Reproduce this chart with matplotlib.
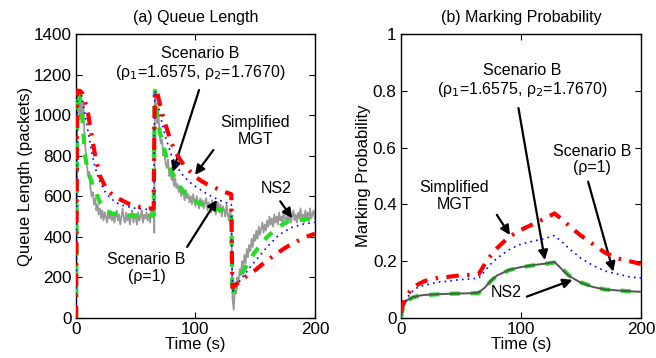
import matplotlib
matplotlib.use("Agg")
import matplotlib.pyplot as plt
from matplotlib.ticker import FuncFormatter

plt.rcParams['font.family'] = ['Liberation Sans', 'DejaVu Sans']

# ---------------- Data: (a) Queue length ----------------
t_mgt_q = [0, 0.5, 1, 3, 5, 7, 10, 13, 16, 20, 25, 30, 35, 40, 45, 50, 55, 60, 65, 65.5, 66,
           68, 70, 72, 75, 80, 85, 90, 95, 100, 105, 110, 115, 120, 125, 130, 130.5, 131, 133,
           136, 140, 145, 150, 155, 160, 165, 170, 175, 180, 185, 190, 195, 200]
q_mgt = [0, 600, 1120, 1120, 1110, 1080, 1010, 900, 800, 700, 640, 610, 590, 575, 560, 550, 545,
         540, 540, 900, 1120, 1110, 1060, 1010, 950, 860, 800, 755, 725, 695, 675, 658, 645, 632,
         620, 610, 300, 150, 160, 175, 195, 215, 235, 260, 283, 305, 325, 345, 362, 378, 392, 405, 415]

t_b1_q = [0, 0.5, 1, 3, 5, 7, 10, 13, 16, 20, 25, 30, 35, 40, 50, 60, 65, 65.5, 66, 68, 70, 75,
          80, 85, 90, 95, 100, 110, 120, 130, 130.5, 131, 135, 140, 145, 150, 160, 170, 180, 190, 200]
q_b1 = [0, 600, 1120, 1115, 1090, 1020, 920, 820, 740, 670, 615, 585, 565, 553, 540, 535, 533,
        900, 1120, 1080, 1010, 890, 800, 740, 700, 670, 648, 610, 580, 560, 300, 130, 165, 205,
        245, 280, 350, 410, 445, 462, 472]

t_b2_q = [0, 0.5, 1, 3, 5, 7.5, 10, 14.5, 20, 25, 30, 40, 50, 60, 65, 65.5, 66, 68, 70, 77, 85,
          95, 105, 115, 130, 130.5, 131, 135, 140, 149, 160, 170, 177, 190, 200]
q_b2 = [0, 600, 1120, 1100, 1000, 800, 720, 647, 570, 530, 515, 505, 505, 505, 505, 900, 1120,
        1000, 920, 762, 660, 590, 560, 540, 520, 300, 110, 180, 230, 319, 400, 450, 475, 485, 490]

t_ns2_q = ([0, 1, 2, 3, 4, 5, 6, 7, 8, 9, 10, 11, 12, 13, 14, 15, 16, 17, 18, 19, 20,
            21, 22, 23, 24, 25, 26, 27, 28, 29, 30, 31, 32, 33, 34, 35, 36, 37, 38, 39, 40,
            41, 42, 43, 44, 45, 46, 47, 48, 49, 50, 51, 52, 53, 54, 55, 56, 57, 58, 59, 60,
            61, 62, 63, 64, 65, 65.5, 66,
            67, 68, 69, 70, 71, 72, 73, 74, 75, 76, 77, 78, 79, 80, 81, 82, 83, 84, 85, 86,
            87, 88, 89, 90, 91, 92, 93, 94, 95, 96, 97, 98, 99, 100, 101, 102, 103, 104, 105,
            106, 107, 108, 109, 110, 111, 112, 113, 114, 115, 116, 117, 118, 119, 120, 121,
            122, 123, 124, 125, 126, 127, 128, 129, 130, 130.5,
            131, 132, 133, 134, 135, 136, 137, 138, 139, 140, 141, 142, 143, 144, 145, 146,
            147, 148, 149, 150, 151, 152, 153, 154, 155, 156, 157, 158, 159, 160, 161, 162,
            163, 164, 165, 166, 167, 168, 169, 170, 171, 172, 173, 174, 175, 176, 177, 178,
            179, 180, 181, 182, 183, 184, 185, 186, 187, 188, 189, 190, 191, 192, 193, 194,
            195, 196, 197, 198, 199, 200])
q_ns2 = ([0, 1050, 1100, 980, 1080, 1000, 1060, 900, 820, 760, 700, 720, 640, 600, 620, 560,
          590, 530, 560, 510, 540, 490, 530, 480, 520, 500, 470, 530, 490, 510, 480, 520, 470,
          500, 530, 480, 510, 460, 500, 540, 490, 470, 520, 480, 510, 460, 500, 530, 470, 510,
          490, 460, 520, 480, 500, 530, 470, 510, 490, 520, 480, 510, 470, 530, 500, 520, 420, 1100,
          1050, 960, 1000, 900, 860, 880, 800, 820, 760, 740, 780, 700, 720, 680, 700, 650, 690,
          640, 660, 620, 650, 600, 640, 610, 580, 630, 590, 610, 570, 600, 560, 610, 580, 550,
          600, 570, 540, 590, 560, 580, 540, 570, 590, 530, 570, 550, 520, 580, 540, 560, 510,
          550, 570, 520, 560, 500, 550, 530, 500, 560, 510, 480, 530, 490, 300,
          100, 40, 150, 120, 200, 170, 240, 210, 280, 250, 310, 270, 340, 300, 360, 330, 390,
          350, 410, 380, 430, 390, 450, 410, 440, 470, 420, 460, 430, 480, 450, 500, 460, 490,
          450, 510, 470, 500, 460, 520, 480, 500, 470, 530, 490, 460, 510, 480, 520, 470, 500,
          530, 480, 510, 470, 520, 490, 540, 480, 510, 470, 530, 490, 520, 480, 540, 490, 510,
          530, 490])

# ---------------- Data: (b) Marking probability ----------------
t_p = [0, 2, 5, 10, 15, 20, 30, 40, 50, 60, 65, 70, 75, 80, 90, 100, 110, 120, 128, 135, 140,
       150, 160, 170, 180, 190, 200]
p_mgt = [0.02, 0.05, 0.08, 0.105, 0.12, 0.13, 0.14, 0.145, 0.15, 0.152, 0.155, 0.19, 0.22,
         0.245, 0.285, 0.31, 0.33, 0.35, 0.368, 0.345, 0.325, 0.29, 0.26, 0.23, 0.21, 0.2, 0.19]
p_b1 = [0.02, 0.045, 0.07, 0.095, 0.11, 0.115, 0.125, 0.13, 0.135, 0.138, 0.14, 0.165, 0.19,
        0.21, 0.24, 0.26, 0.27, 0.28, 0.29, 0.265, 0.245, 0.21, 0.185, 0.165, 0.155, 0.145, 0.14]
p_b2 = [0.0, 0.04, 0.06, 0.072, 0.078, 0.08, 0.083, 0.085, 0.086, 0.087, 0.088, 0.105, 0.13,
        0.148, 0.168, 0.178, 0.185, 0.19, 0.195, 0.17, 0.15, 0.125, 0.11, 0.1, 0.097, 0.094, 0.092]
p_ns2 = [0.0, 0.042, 0.062, 0.073, 0.078, 0.081, 0.083, 0.085, 0.086, 0.087, 0.09, 0.107,
         0.131, 0.149, 0.169, 0.179, 0.186, 0.191, 0.197, 0.168, 0.148, 0.124, 0.109, 0.1, 0.097,
         0.094, 0.092]

RED = '#ff0000'
BLUE = '#0000ff'
GREEN = '#22dd22'

fig = plt.figure(figsize=(6.56, 3.58), dpi=100)
ax1 = fig.add_axes([0.116, 0.112, 0.364, 0.793])
ax2 = fig.add_axes([0.611, 0.112, 0.366, 0.793])

TICK_FS = 12.3
LAB_FS = 12
TITLE_FS = 11.5
TXT_FS = 11.5

# (a)
ax1.plot(t_ns2_q, q_ns2, color='#999999', lw=1.3, zorder=2)
ax1.plot(t_b2_q, q_b2, color=GREEN, lw=3, ls=(0, (2.5, 2.5)), zorder=3)
ax1.plot(t_b1_q, q_b1, color=BLUE, lw=1.2, ls=(0, (1, 2.5)), zorder=4)
ax1.plot(t_mgt_q, q_mgt, color=RED, lw=3, ls=(0, (3, 2, 0.6, 2)), zorder=5)
ax1.set_xlim(0, 200)
ax1.set_ylim(0, 1400)
ax1.set_xticks([0, 100, 200])
ax1.set_yticks([0, 200, 400, 600, 800, 1000, 1200, 1400])
ax1.set_title('(a) Queue Length', fontsize=TITLE_FS, pad=9)
ax1.set_xlabel('Time (s)', fontsize=LAB_FS, labelpad=0)
ax1.set_ylabel('Queue Length (packets)', fontsize=LAB_FS, labelpad=1)

arr = dict(arrowstyle='-|>', color='k', lw=1.6, mutation_scale=14, shrinkA=0, shrinkB=0)
ax1.text(104, 1250, 'Scenario B\n(ρ$_1$=1.6575, ρ$_2$=1.7670)', ha='center', va='center',
         fontsize=TXT_FS, linespacing=1.15)
ax1.annotate('', xy=(81, 720), xytext=(103, 1124), arrowprops=arr)
ax1.text(150, 922, 'Simplified\nMGT', ha='center', va='center', fontsize=TXT_FS, linespacing=1.15)
ax1.annotate('', xy=(99.6, 705), xytext=(115, 828), arrowprops=arr)
ax1.text(168, 640, 'NS2', ha='center', va='center', fontsize=TXT_FS)
ax1.annotate('', xy=(181, 492), xytext=(171, 575), arrowprops=arr)
ax1.text(59, 246, 'Scenario B\n(ρ=1)', ha='center', va='center', fontsize=TXT_FS, linespacing=1.15)
ax1.annotate('', xy=(118, 582), xytext=(93, 350), arrowprops=arr)

# (b)
ax2.plot(t_p, p_b2, color=GREEN, lw=3, ls=(0, (2.5, 2.5)), zorder=3)
ax2.plot(t_p, p_ns2, color='#555555', lw=1.4, zorder=4)
ax2.plot(t_p, p_b1, color=BLUE, lw=1.2, ls=(0, (1, 2.5)), zorder=4)
ax2.plot(t_p, p_mgt, color=RED, lw=3, ls=(0, (3, 2, 0.6, 2)), zorder=5)
ax2.set_xlim(0, 200)
ax2.set_ylim(0, 1)
ax2.set_xticks([0, 100, 200])
ax2.set_yticks([0, 0.2, 0.4, 0.6, 0.8, 1.0])
ax2.yaxis.set_major_formatter(FuncFormatter(lambda v, p: ('%g' % v)))
ax2.set_title('(b) Marking Probability', fontsize=TITLE_FS, pad=9)
ax2.set_xlabel('Time (s)', fontsize=LAB_FS, labelpad=0)
ax2.set_ylabel('Marking Probability', fontsize=LAB_FS, labelpad=1)

ax2.text(101, 0.833, 'Scenario B\n(ρ$_1$=1.6575, ρ$_2$=1.7670)', ha='center', va='center',
         fontsize=TXT_FS, linespacing=1.15)
ax2.annotate('', xy=(120, 0.204), xytext=(98, 0.739), arrowprops=arr)
ax2.text(44.7, 0.43, 'Simplified\nMGT', ha='center', va='center', fontsize=TXT_FS, linespacing=1.15)
ax2.annotate('', xy=(91, 0.292), xytext=(80, 0.363), arrowprops=arr)
ax2.text(159, 0.558, 'Scenario B\n(ρ=1)', ha='center', va='center', fontsize=TXT_FS, linespacing=1.15)
ax2.annotate('', xy=(177, 0.163), xytext=(156, 0.48), arrowprops=arr)
ax2.text(88, 0.088, 'NS2', ha='center', va='center', fontsize=TXT_FS)
ax2.annotate('', xy=(143, 0.134), xytext=(105, 0.075), arrowprops=arr)

for ax in (ax1, ax2):
    ax.tick_params(direction='in', top=True, right=True, labelsize=TICK_FS, length=4, width=0.8,
                   pad=3)
    for s in ax.spines.values():
        s.set_linewidth(1.0)

fig.savefig('out.png', dpi=100)
